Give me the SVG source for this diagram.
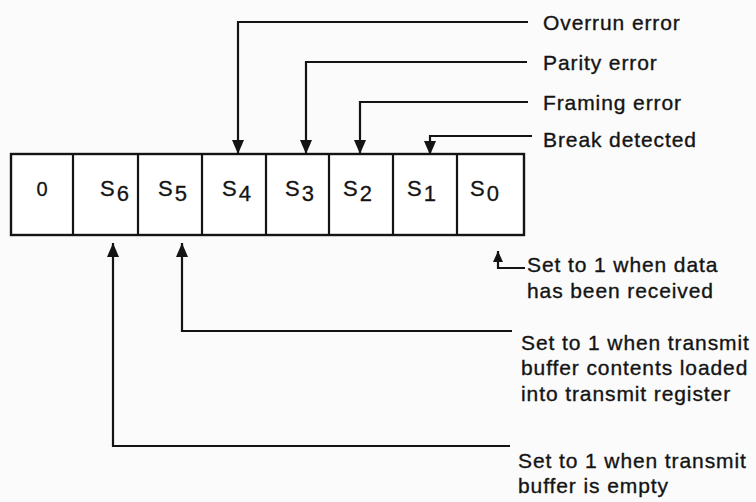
<svg xmlns="http://www.w3.org/2000/svg" width="756" height="502" viewBox="0 0 756 502">
<defs>
<style>
.ln{fill:none;stroke:#141414;stroke-width:2.2}
.lbl{font-family:"Liberation Sans",Arial,sans-serif;font-size:21px;letter-spacing:0.9px;fill:#141414;stroke:#141414;stroke-width:0.35}
.cell{font-family:"Liberation Sans",Arial,sans-serif;font-size:22px;fill:#141414;stroke:#141414;stroke-width:0.3}
.zero{font-size:20px}
.box{fill:#fff;stroke:#141414;stroke-width:2.4}
</style>
<marker id="ah" viewBox="0 0 14 12" refX="14" refY="6" markerWidth="14" markerHeight="12" markerUnits="userSpaceOnUse" orient="auto">
<path d="M0,0 L14,6 L0,12 z" fill="#141414"/>
</marker>
<marker id="ahs" viewBox="0 0 11 10" refX="11" refY="5" markerWidth="11" markerHeight="10" markerUnits="userSpaceOnUse" orient="auto">
<path d="M0,0 L11,5 L0,10 z" fill="#141414"/>
</marker>
</defs>
<rect width="756" height="502" fill="#fbfbfb"/>
<g id="register">
<rect class="box" x="11" y="154" width="513" height="81"/>
<path class="ln" d="M73,154 V235 M138,154 V235 M202,154 V235 M266,154 V235 M329,154 V235 M393,154 V235 M457,154 V235"/>
<text class="cell zero" x="42" y="196" text-anchor="middle">0</text>
<text class="cell" x="100" y="196">S<tspan dx="2" dy="5">6</tspan></text>
<text class="cell" x="158" y="196">S<tspan dx="2" dy="5">5</tspan></text>
<text class="cell" x="222" y="196">S<tspan dx="2" dy="5">4</tspan></text>
<text class="cell" x="285" y="196">S<tspan dx="2" dy="5">3</tspan></text>
<text class="cell" x="343" y="196">S<tspan dx="2" dy="5">2</tspan></text>
<text class="cell" x="407" y="196">S<tspan dx="2" dy="5">1</tspan></text>
<text class="cell" x="470" y="196">S<tspan dx="2" dy="5">0</tspan></text>
</g>
<g id="connectors">
<path class="ln" d="M528,22 H238 V154" marker-end="url(#ah)"/>
<path class="ln" d="M527,62 H306 V154" marker-end="url(#ah)"/>
<path class="ln" d="M528,102 H360 V154" marker-end="url(#ah)"/>
<path class="ln" d="M532,136 H430 V155" marker-end="url(#ah)"/>
<path class="ln" d="M525,268 H498 V251" marker-end="url(#ahs)"/>
<path class="ln" d="M512,331 H182 V243" marker-end="url(#ah)"/>
<path class="ln" d="M510,446 H113 V243" marker-end="url(#ah)"/>
</g>
<g id="label-overrun"><text class="lbl" x="543" y="30">Overrun error</text></g>
<g id="label-parity"><text class="lbl" x="543" y="70">Parity error</text></g>
<g id="label-framing"><text class="lbl" x="543" y="110">Framing error</text></g>
<g id="label-break"><text class="lbl" x="543" y="147">Break detected</text></g>
<g id="label-s0">
<text class="lbl" x="527" y="272">Set to 1 when data</text>
<text class="lbl" x="527" y="298">has been received</text>
</g>
<g id="label-s5">
<text class="lbl" x="521" y="350">Set to 1 when transmit</text>
<text class="lbl" x="521" y="375">buffer contents loaded</text>
<text class="lbl" x="521" y="401">into transmit register</text>
</g>
<g id="label-s6">
<text class="lbl" x="518" y="468">Set to 1 when transmit</text>
<text class="lbl" x="518" y="493">buffer is empty</text>
</g>
</svg>
